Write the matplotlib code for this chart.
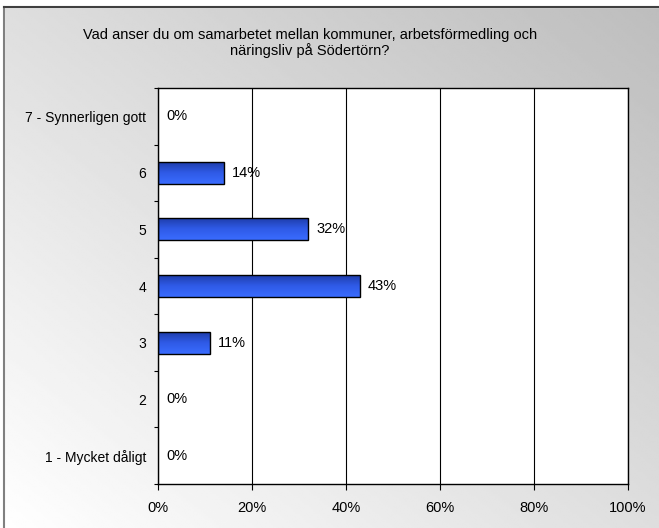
import numpy as np
import matplotlib.pyplot as plt
from matplotlib.colors import LinearSegmentedColormap

categories = ['7 - Synnerligen gott', '6', '5', '4', '3', '2', '1 - Mycket dåligt']
values = [0, 14, 32, 43, 11, 0, 0]
title = 'Vad anser du om samarbetet mellan kommuner, arbetsförmedling och\nnäringsliv på Södertörn?'

plt.rcParams['font.family'] = 'Liberation Sans'

fig = plt.figure(figsize=(6.59, 5.28), dpi=100)

# background: diagonal grey gradient, white in the lower left corner
bg = fig.add_axes([0, 0, 1, 1], zorder=-10)
nx, ny = 300, 240
gx, gy = np.meshgrid(np.linspace(0, 1, nx), np.linspace(0, 1, ny))
u = (gx + gy) / 2
shade = 1.0 - u * (1.0 - 0.74)
bg.imshow(shade, cmap='gray', vmin=0, vmax=1, origin='lower',
          extent=[0, 1, 0, 1], aspect='auto', interpolation='bilinear')
bg.set_xlim(0, 1)
bg.set_ylim(0, 1)
bg.axis('off')
# frame edges (left and top)
fx, fy = 4 / 659, 1 - 7 / 528
bg.fill_between([0, 1], fy, 1, color='white', zorder=2)
bg.fill_between([0, fx], 0, 1, color='white', zorder=2)
bg.plot([fx, fx], [0, fy], color='#808080', lw=1.5, zorder=3)
bg.plot([fx, 1], [fy, fy], color='#404040', lw=1.5, zorder=3)

fig.text(0.47, 1 - 43 / 528, title, ha='center', va='center', fontsize=10.5,
         linespacing=1.1)

ax = fig.add_axes([158 / 659, 1 - 484 / 528, 470 / 659, 396 / 528])
ax.set_facecolor('white')

y = np.arange(len(categories))
bars = ax.barh(y, values, height=0.39, color='none', edgecolor='black',
               linewidth=1.0, zorder=3)

blue = LinearSegmentedColormap.from_list('blue', ['#1d3ba6', '#2f5ae6', '#3a6cff'])
grad = np.linspace(0, 1, 64).reshape(-1, 1)
for b in bars:
    w = b.get_width()
    if w <= 0:
        b.set_linewidth(0)
        continue
    yb = b.get_y()
    h = b.get_height()
    im = ax.imshow(grad, cmap=blue, aspect='auto', origin='upper',
                   extent=[0, w, yb + h, yb], zorder=2)
    im.set_clip_path(b)

for yi, v in zip(y, values):
    ax.text(v + 1.7, yi, f'{v}%', va='center', ha='left', fontsize=10.5)

ax.set_xlim(0, 100)
ax.set_ylim(len(categories) - 0.5, -0.5)
ax.set_xticks(np.arange(0, 101, 20))
ax.set_xticklabels([f'{t}%' for t in range(0, 101, 20)], fontsize=10.5)
ax.set_yticks(y)
ax.set_yticklabels(categories, fontsize=10)
ax.set_yticks(np.arange(-0.5, len(categories), 1), minor=True)
ax.tick_params(axis='y', which='major', length=0, pad=8.6)
ax.tick_params(axis='y', which='minor', length=3, width=0.8, direction='out')
ax.tick_params(axis='x', length=4, width=0.8, pad=8)
ax.grid(axis='x', color='black', linewidth=0.8, zorder=1)
ax.set_axisbelow(True)
for s in ax.spines.values():
    s.set_linewidth(1.0)

plt.savefig('out.png', dpi=100)
